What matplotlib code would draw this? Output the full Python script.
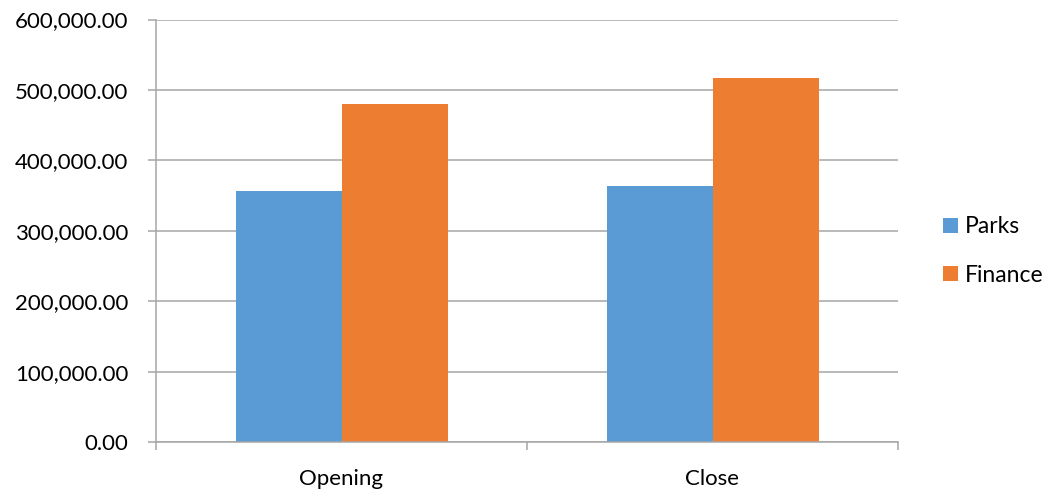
import matplotlib
matplotlib.use("Agg")
import matplotlib.pyplot as plt
import numpy as np
from matplotlib.ticker import FuncFormatter, FixedLocator
from matplotlib.patches import Patch

categories = ["Opening", "Close"]
parks = [356500, 364000]
finance = [480300, 516700]
series_names = ["Parks", "Finance"]
colors = ["#5B9BD5", "#ED7D31"]
yticks = [0, 100000, 200000, 300000, 400000, 500000, 600000]

plt.rcParams['font.family'] = ['Lato', 'DejaVu Sans']

fig = plt.figure(figsize=(10.51, 4.91), dpi=100)
ax = fig.add_axes([156/1051, (491-442.3)/491, 742/1051, (442.3-19.5)/491])

x = np.arange(len(categories))
w = 1/3.5
ax.bar(x - w/2, parks, width=w, color=colors[0], linewidth=0)
ax.bar(x + w/2, finance, width=w, color=colors[1], linewidth=0)

ax.set_xlim(-0.5, len(categories) - 0.5)
ax.set_ylim(0, 600000)
ax.set_yticks(yticks)
ax.yaxis.set_major_formatter(FuncFormatter(lambda v, p: f"{v:,.2f}"))
ax.grid(axis='y', color='#A6A6A6', linewidth=1.1)
ax.set_axisbelow(True)

ax.xaxis.set_major_locator(FixedLocator(np.arange(-0.5, len(categories), 1.0)))
ax.xaxis.set_major_formatter(FuncFormatter(lambda v, p: ""))
ax.xaxis.set_minor_locator(FixedLocator(x))
ax.set_xticks(x, minor=True)
ax.set_xticklabels(categories, minor=True)
ax.tick_params(axis='x', which='major', length=6, color='#A6A6A6', width=1.1)
ax.tick_params(axis='x', which='minor', length=0, pad=19, labelsize=16, labelcolor='#000000')
ax.tick_params(axis='y', length=6, color='#A6A6A6', width=1.1, pad=14, labelsize=16, labelcolor='#000000')

for s in ['top', 'right']:
    ax.spines[s].set_visible(False)
for s in ['left', 'bottom']:
    ax.spines[s].set_color('#A6A6A6')
    ax.spines[s].set_linewidth(1.1)

handles = [Patch(facecolor=c, edgecolor='none') for c in colors]
fig.legend(handles, series_names, loc='center left', bbox_to_anchor=(922/1051, 1 - 251/491),
           frameon=False, fontsize=16.5, handlelength=0.65, handleheight=0.65,
           handletextpad=0.3, labelspacing=1.2)

fig.savefig("out.png", dpi=100)
